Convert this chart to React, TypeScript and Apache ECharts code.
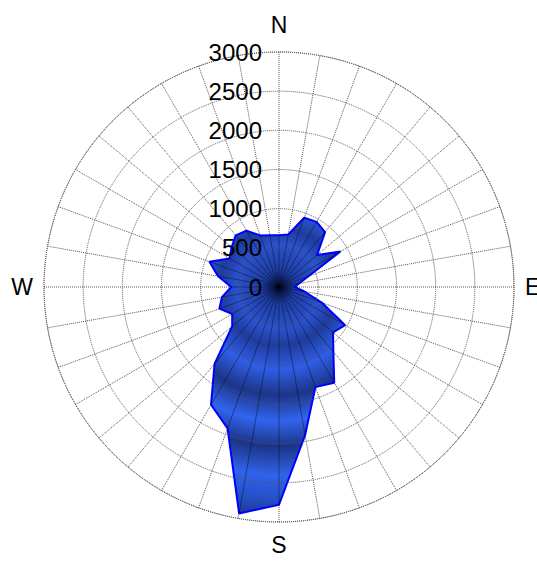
import React, { useEffect, useRef } from "react";
import * as echarts from "echarts";

// Wind directions (degrees, clockwise from north)
const DIRECTIONS = [
  0, 10, 20, 30, 40, 50, 60, 70, 80, 90, 100, 110, 120, 130, 140, 150, 160, 170,
  180, 190, 200, 210, 220, 230, 240, 250, 260, 270, 280, 290, 300, 310, 320, 330, 340, 350,
];
// Value per direction
const VALUES = [
  660, 680, 940, 960, 915, 635, 905, 400, 260, 200, 330, 580, 975, 900, 1080, 1410, 1360, 1920,
  2780, 2935, 1920, 1735, 1280, 780, 690, 810, 740, 610, 790, 945, 730, 790, 860, 830, 700, 670,
];
const COMPASS_ANGLES = [0, 90, 180, 270];
const COMPASS_LABELS = ["N", "E", "S", "W"];
const RADIUS_MAX = 3000;
const RADIUS_STEP = 500;

export default function App() {
  const ref = useRef<HTMLDivElement>(null);
  useEffect(() => {
    if (!ref.current) return;
    const chart = echarts.init(ref.current, undefined, { renderer: "svg" });
    const cx = 279;
    const cy = 287;
    const R = 235;
    const areaData = DIRECTIONS.map((a, i) => [VALUES[i], a]);
    areaData.push([VALUES[0], 360]);
    const grad = new echarts.graphic.RadialGradient(
      cx,
      cy,
      R,
      [
        { offset: 0, color: "#0a1445" },
        { offset: 0.07, color: "#1d3ca0" },
        { offset: 0.18, color: "#2a52cc" },
        { offset: 0.25, color: "#1f3c9c" },
        { offset: 0.35, color: "#2f5ee6" },
        { offset: 0.46, color: "#1c3588" },
        { offset: 0.57, color: "#3164ee" },
        { offset: 0.68, color: "#1c3486" },
        { offset: 0.8, color: "#3063ea" },
        { offset: 0.9, color: "#2650c8" },
        { offset: 0.97, color: "#1e3a98" },
        { offset: 1, color: "#2a55d8" },
      ],
      true
    );
    const gridLine = { color: "#555", width: 1, type: "dotted" as const };
    const font = "Liberation Sans, Arial, sans-serif";
    chart.setOption({
      animation: false,
      backgroundColor: "#ffffff",
      polar: { center: [cx, cy], radius: R },
      angleAxis: {
        type: "value",
        min: 0,
        max: 360,
        interval: 10,
        startAngle: 90,
        clockwise: true,
        axisLine: { show: true, lineStyle: gridLine },
        axisTick: { show: false },
        splitLine: { show: true, lineStyle: gridLine },
        axisLabel: {
          show: true,
          margin: 11,
          fontFamily: font,
          fontSize: 23,
          color: "#000",
          formatter: (v: number) => {
            const idx = COMPASS_ANGLES.indexOf(v);
            if (idx < 0) return "";
            return idx === 0 ? "{n|" + COMPASS_LABELS[idx] + "}" : COMPASS_LABELS[idx];
          },
          rich: {
            n: { fontFamily: font, fontSize: 23, color: "#000", padding: [0, 0, 5, 0] },
          },
        },
      },
      radiusAxis: {
        type: "value",
        min: 0,
        max: RADIUS_MAX,
        interval: RADIUS_STEP,
        axisLine: { show: false },
        axisTick: { show: false },
        splitLine: { show: true, lineStyle: gridLine },
        axisLabel: {
          show: true,
          margin: 17,
          fontFamily: font,
          fontSize: 24,
          color: "#000",
          align: "right",
          verticalAlign: "middle",
          formatter: (v: number) => String(v),
        },
        z: 10,
      },
      series: [
        {
          type: "line",
          coordinateSystem: "polar",
          data: areaData,
          symbol: "none",
          lineStyle: { color: "#0000ff", width: 2 },
          areaStyle: { color: grad, opacity: 1 },
          z: 2,
        },
        {
          type: "custom",
          coordinateSystem: "polar",
          data: DIRECTIONS.map((a, i) => [VALUES[i], a]),
          renderItem: (params: any, api: any) => {
            const r = api.value(0);
            const ang = api.value(1);
            const p = api.coord([r, ang]);
            const c = api.coord([0, ang]);
            return {
              type: "line",
              shape: { x1: c[0], y1: c[1], x2: p[0], y2: p[1] },
              style: { stroke: "#000000", lineWidth: 0.7, opacity: 0.55 },
            };
          },
          z: 3,
        },
      ],
    });
    return () => chart.dispose();
  }, []);
  return (
    <div
      ref={ref}
      style={{ position: "fixed", left: 0, top: 0, width: 537, height: 561 }}
    />
  );
}
